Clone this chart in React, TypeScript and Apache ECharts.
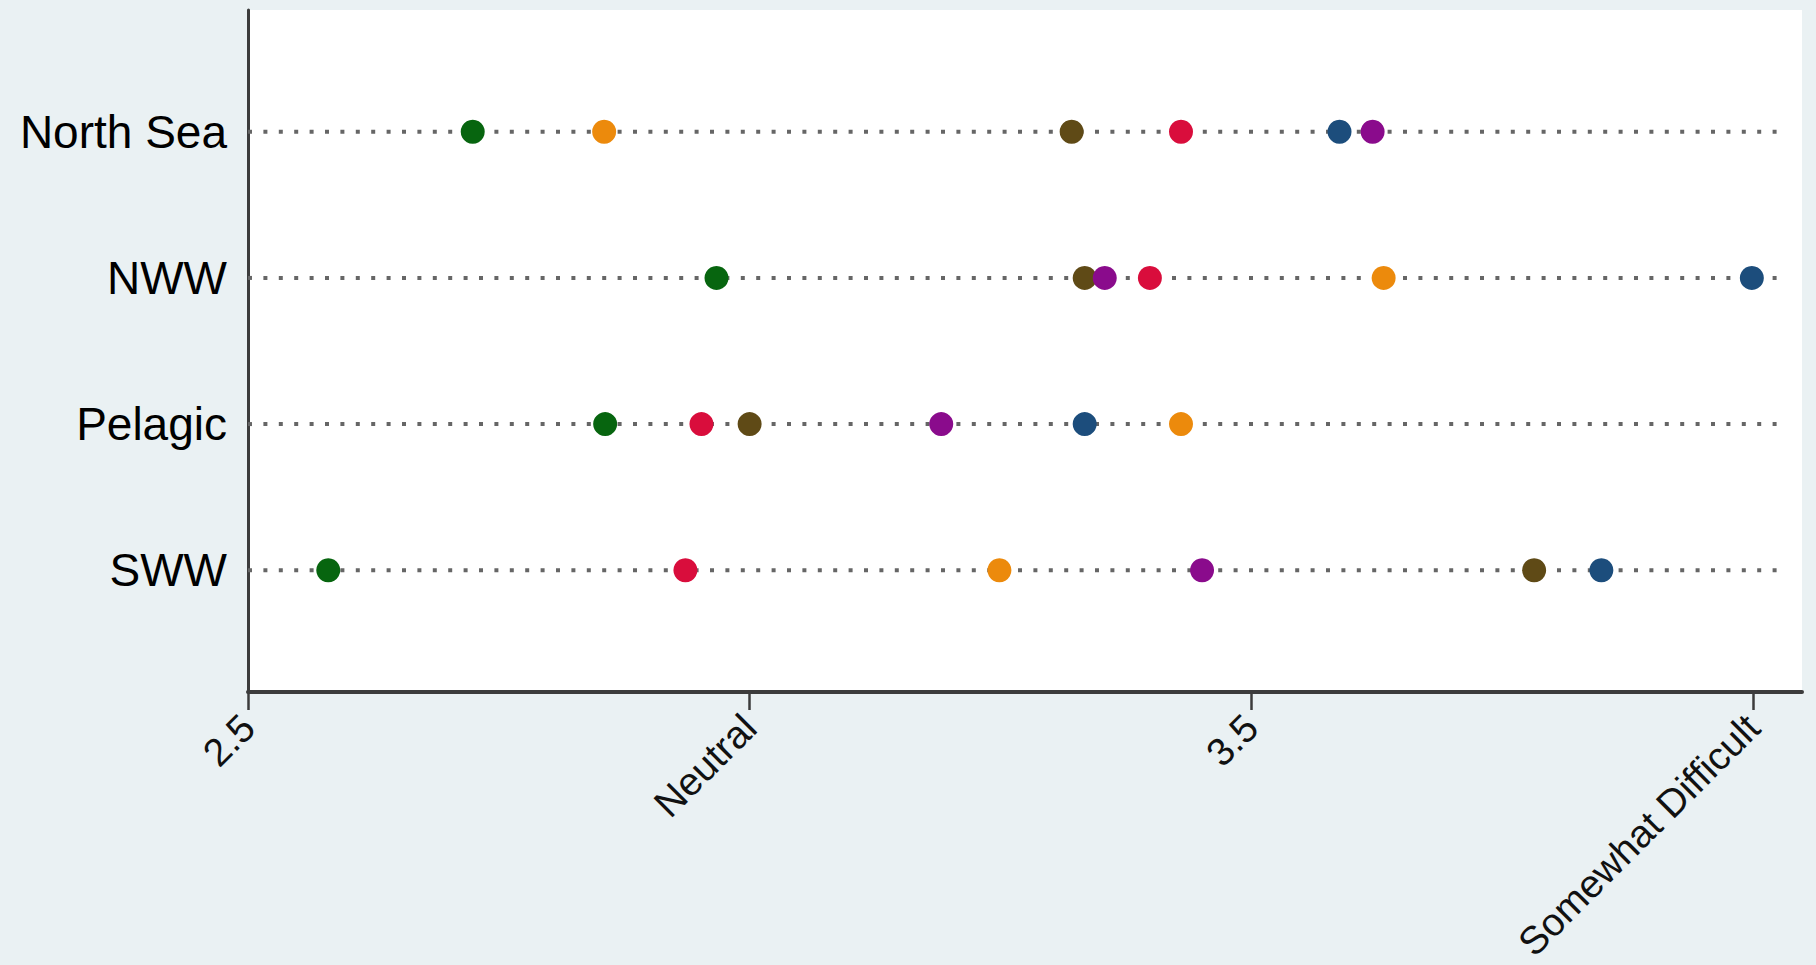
import React, { useEffect, useRef } from "react";
import * as echarts from "echarts";

const regions = ["North Sea", "NWW", "Pelagic", "SWW"];
const xTickValues = [2.5, 3, 3.5, 4];
const xTickLabels = ["2.5", "Neutral", "3.5", "Somewhat Difficult"];

const greenVals = [2.724, 2.967, 2.856, 2.58];
const orangeVals = [2.855, 3.632, 3.43, 3.249];
const brownVals = [3.321, 3.334, 3.0, 3.782];
const redVals = [3.43, 3.399, 2.952, 2.936];
const blueVals = [3.588, 3.999, 3.334, 3.849];
const purpleVals = [3.621, 3.354, 3.191, 3.451];

const seriesDefs = [
  { name: "green", color: "#07650f", values: greenVals },
  { name: "orange", color: "#ec8a0c", values: orangeVals },
  { name: "brown", color: "#5f4a16", values: brownVals },
  { name: "red", color: "#d90d3c", values: redVals },
  { name: "blue", color: "#1c4d7c", values: blueVals },
  { name: "purple", color: "#8a0b8c", values: purpleVals },
];

const X_MIN = 2.5;
const X_MAX = 4.049;
const LINE_END = 4.032;

export default function App() {
  const ref = useRef<HTMLDivElement>(null);

  useEffect(() => {
    document.body.style.margin = "0";
    if (!ref.current) return;
    const chart = echarts.init(ref.current, null, { renderer: "svg" });

    const rowLines = regions.map((r, i) => ({
      type: "line",
      name: r + " line",
      data: [
        [X_MIN, i + 1],
        [LINE_END, i + 1],
      ],
      symbol: "none",
      silent: true,
      z: 1,
      lineStyle: { color: "#666666", width: 4, type: [4, 11.4], cap: "butt" },
    }));

    const dots = seriesDefs.map((s) => ({
      type: "scatter",
      name: s.name,
      data: s.values.map((v, i) => [v, i + 1]),
      symbol: "circle",
      symbolSize: 24,
      itemStyle: { color: s.color, opacity: 1 },
      z: 3,
    }));

    chart.setOption({
      animation: false,
      backgroundColor: "#eaf1f3",
      grid: {
        left: 248,
        right: 14,
        top: 10,
        bottom: 273,
        containLabel: false,
        outerBoundsMode: "none",
        show: true,
        backgroundColor: "#ffffff",
        borderWidth: 0,
      },
      xAxis: {
        type: "value",
        min: X_MIN,
        max: X_MAX,
        interval: 0.5,
        splitLine: { show: false },
        axisLine: { show: true, lineStyle: { color: "#3c3c3c", width: 4 } },
        axisTick: {
          show: true,
          customValues: xTickValues,
          length: 18,
          lineStyle: { color: "#3c3c3c", width: 2.5 },
        },
        axisLabel: {
          show: true,
          customValues: xTickValues,
          rotate: 45,
          margin: 29,
          fontSize: 39,
          color: "#111111",
          fontFamily: "Liberation Sans",
          formatter: (v: number) => {
            const idx = xTickValues.findIndex((t) => Math.abs(t - v) < 1e-6);
            return idx >= 0 ? xTickLabels[idx] : "";
          },
        },
      },
      yAxis: {
        type: "value",
        inverse: true,
        min: 0.167,
        max: 4.833,
        splitLine: { show: false },
        axisLine: { show: true, lineStyle: { color: "#3c3c3c", width: 3 } },
        axisTick: { show: false },
        axisLabel: {
          show: true,
          customValues: [1, 2, 3, 4],
          margin: 21,
          fontSize: 46,
          padding: [12, 0, 0, 0],
          color: "#000000",
          fontFamily: "Liberation Sans",
          formatter: (v: number) => regions[Math.round(v) - 1] ?? "",
        },
      },
      series: [...rowLines, ...dots],
    });

    return () => chart.dispose();
  }, []);

  return <div ref={ref} style={{ width: 1816, height: 965 }} />;
}
